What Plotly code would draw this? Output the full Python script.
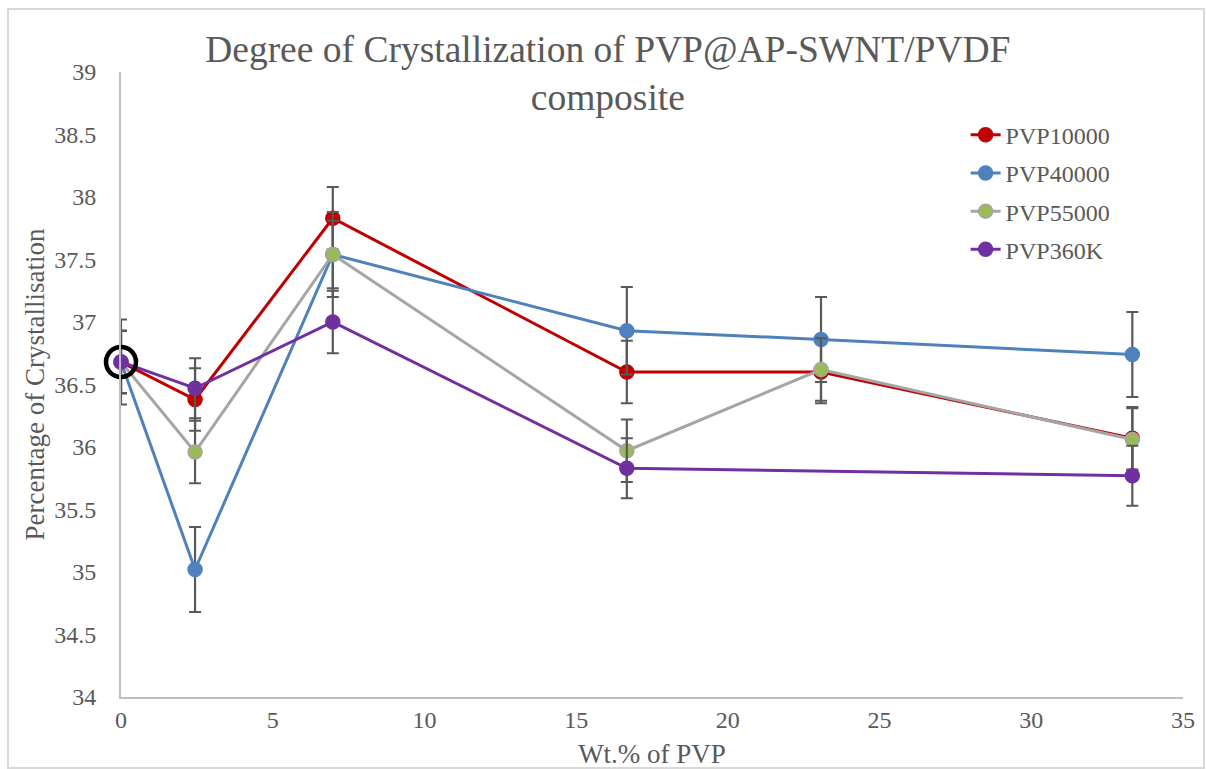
import plotly.graph_objects as go

# Wt.% of PVP in the composite
wt_pct = [0, 2.44, 6.98, 16.67, 23.07, 33.33]

# Degree of crystallisation (%) for each PVP molecular weight
pvp10000 = [36.68, 36.38, 37.83, 36.60, 36.60, 36.07]
pvp40000 = [36.68, 35.02, 37.54, 36.93, 36.86, 36.74]
pvp55000 = [36.68, 35.96, 37.54, 35.97, 36.62, 36.06]
pvp360k = [36.68, 36.47, 37.00, 35.83, None, 35.77]

# Error bar half-widths
err10000 = [0.25, 0.25, 0.25, 0.25, 0.25, 0.25]
err40000 = [0.34, 0.34, 0.34, 0.35, 0.34, 0.34]
err55000 = [0.25, 0.25, 0.27, 0.25, 0.25, 0.25]
err360k = [0.25, 0.24, 0.25, 0.24, None, 0.24]

series = [
    ("PVP10000", pvp10000, err10000, "#C00000", "#C00000"),
    ("PVP40000", pvp40000, err40000, "#4F81BD", "#4F81BD"),
    ("PVP55000", pvp55000, err55000, "#A5A5A5", "#9BBB59"),
    ("PVP360K", pvp360k, err360k, "#7030A0", "#7030A0"),
]

TEXT = "#595959"
FONT = "Liberation Serif, Times New Roman, serif"

fig = go.Figure()
for i, (name, ys, errs, line_col, fill_col) in enumerate(series):
    fig.add_trace(go.Scatter(
        x=wt_pct, y=ys, name=name, mode="lines+markers",
        connectgaps=True, legendgroup=f"g{i}", cliponaxis=False,
        line=dict(color=line_col, width=3),
        marker=dict(size=14, color=fill_col, line=dict(color=line_col, width=1.5)),
        error_y=dict(type="data", array=errs, visible=True,
                     color="#595959", thickness=2.2, width=6),
    ))

# Highlight ring around the neat PVDF point
fig.add_trace(go.Scatter(
    x=[wt_pct[0]], y=[pvp10000[0]], mode="markers", showlegend=False,
    hoverinfo="skip", cliponaxis=False,
    marker=dict(symbol="circle-open", size=30, color="black", line=dict(color="black", width=4.5)),
))

fig.update_layout(
    width=1206, height=769,
    margin=dict(l=121, r=23, t=72, b=72, autoexpand=False),
    paper_bgcolor="white", plot_bgcolor="white",
    font=dict(family=FONT, color=TEXT, size=24),
    title=dict(
        text="Degree of Crystallization of PVP@AP-SWNT/PVDF<br>composite",
        x=0.504, xanchor="center", y=0.92, yanchor="middle",
        font=dict(family=FONT, size=37.5, color=TEXT),
    ),
    xaxis=dict(
        range=[0, 35], tickvals=[0, 5, 10, 15, 20, 25, 30, 35],
        showgrid=False, zeroline=False, showline=True, automargin=False,
        linecolor="#BFBFBF", linewidth=2, ticks="", ticklen=0,
        tickfont=dict(family=FONT, size=24, color=TEXT),
        title=dict(text="Wt.% of PVP", font=dict(family=FONT, size=27, color=TEXT), standoff=18),
    ),
    yaxis=dict(
        range=[34, 39], tickvals=[34, 34.5, 35, 35.5, 36, 36.5, 37, 37.5, 38, 38.5, 39],
        ticktext=["34", "34.5", "35", "35.5", "36", "36.5", "37", "37.5", "38", "38.5", "39"],
        showgrid=False, zeroline=False, showline=True, automargin=False,
        linecolor="#BFBFBF", linewidth=2, ticks="outside", ticklen=18, tickcolor="rgba(0,0,0,0)",
        tickfont=dict(family=FONT, size=24, color=TEXT),
        title=dict(text="Percentage of Crystallisation", font=dict(family=FONT, size=27, color=TEXT), standoff=2),
    ),
    legend=dict(
        x=0.7953, y=0.935, xanchor="left", yanchor="top",
        bgcolor="rgba(0,0,0,0)", tracegroupgap=4,
        font=dict(family=FONT, size=24, color=TEXT),
    ),
    showlegend=True,
)

# Chart-area frame
fig.add_shape(type="rect", xref="paper", yref="paper",
              x0=-0.1064, x1=1.0198, y0=-0.1136, y1=1.1008,
              line=dict(color="#D9D9D9", width=2), fillcolor="rgba(0,0,0,0)", layer="below")

fig.write_html("out.html")
